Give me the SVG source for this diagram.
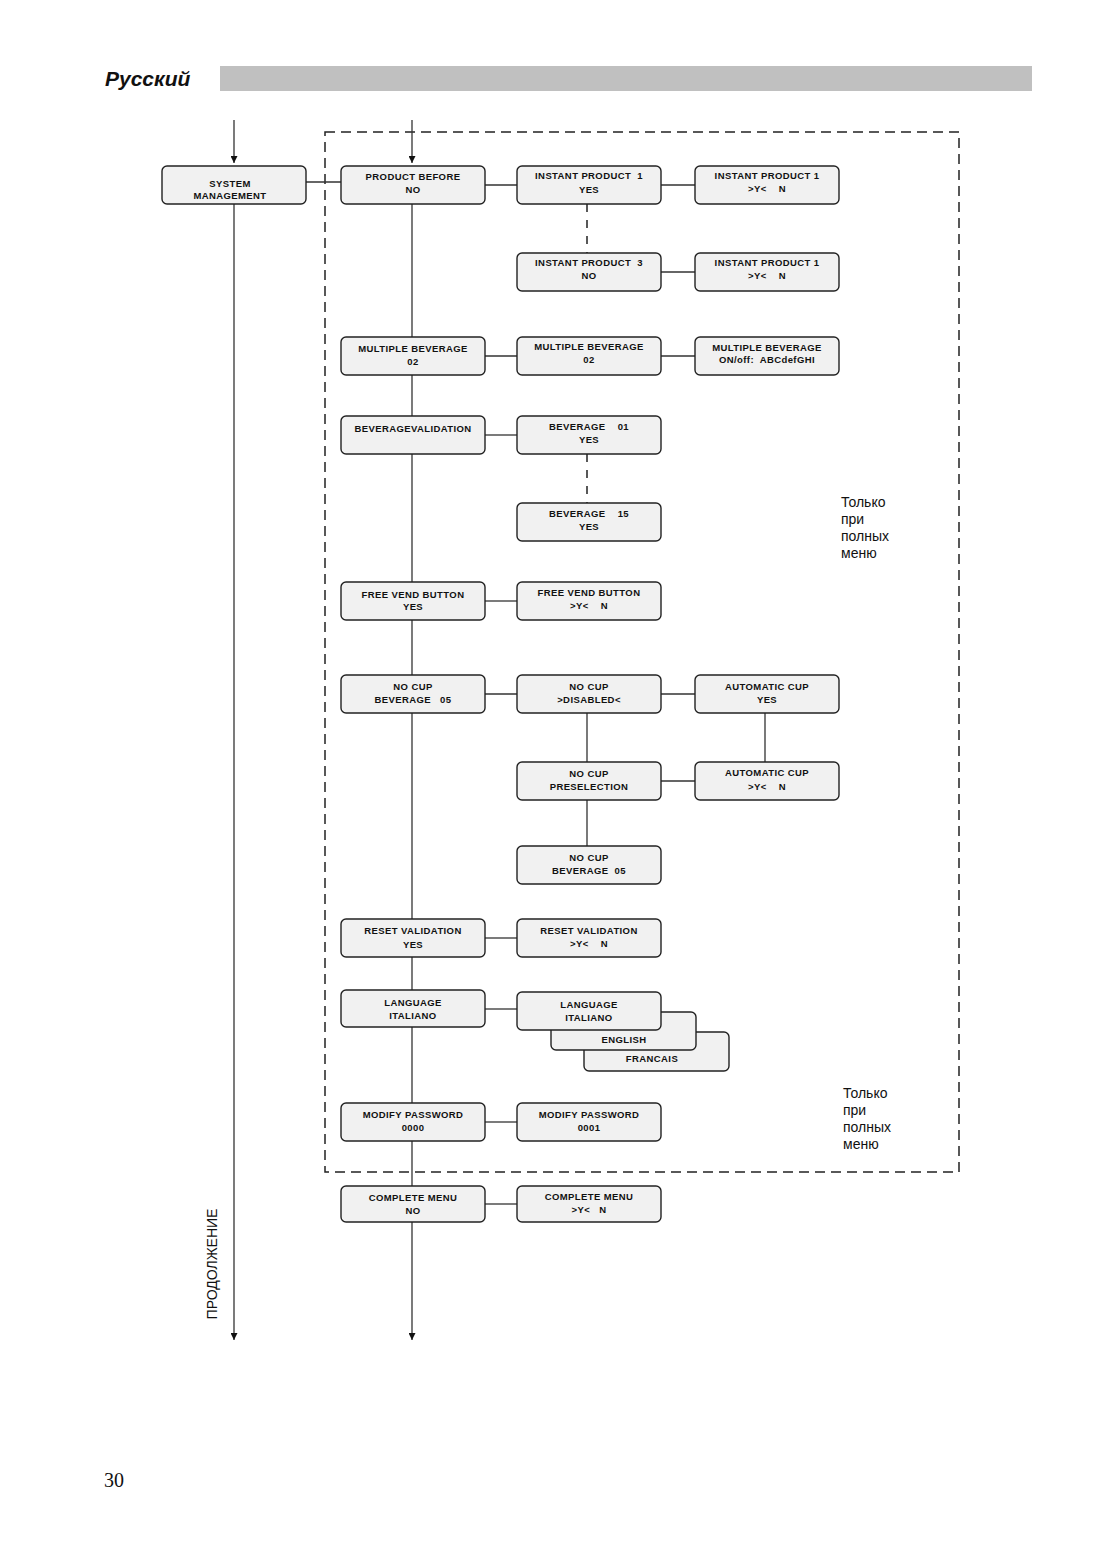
<svg xmlns="http://www.w3.org/2000/svg" width="1102" height="1558" viewBox="0 0 1102 1558">
<defs>
<style>
.b{fill:#f1f1f1;stroke:#222;stroke-width:1.4}
.t{font-family:"Liberation Sans",Arial,sans-serif;font-size:9.5px;font-weight:bold;fill:#111;text-anchor:middle;letter-spacing:0.4px;white-space:pre}
.c{stroke:#333;stroke-width:1.3;fill:none}
.d{stroke:#222;stroke-width:1.5;fill:none;stroke-dasharray:10,6}
.n{font-family:"Liberation Sans",Arial,sans-serif;font-size:14px;fill:#111}
</style>
<marker id="ah" viewBox="0 0 10 10" refX="10" refY="5" markerWidth="8" markerHeight="7" orient="auto" markerUnits="userSpaceOnUse">
<path d="M0,0 L10,5 L0,10 Z" fill="#111"/>
</marker>
</defs>
<rect width="1102" height="1558" fill="#fff"/>
<text x="105" y="86" font-family="Liberation Sans,Arial,sans-serif" font-size="21" font-weight="bold" font-style="italic" fill="#111">Русский</text>
<rect x="220" y="66" width="812" height="25" fill="#c0c0c0"/>
<rect x="325" y="132" width="634" height="1040" class="d"/>
<g id="connectors">
<path class="c" d="M234,120 V163" marker-end="url(#ah)"/>
<path class="c" d="M412,120 V163" marker-end="url(#ah)"/>
<path class="c" d="M234,204 V1340" marker-end="url(#ah)"/>
<path class="c" d="M412,204 V1340" marker-end="url(#ah)"/>
<path class="c" d="M306,182 H341"/>
<path class="c" d="M485,185 H517 M661,185 H695"/>
<path class="c" d="M661,272 H695"/>
<path class="c" d="M485,356 H517 M661,356 H695"/>
<path class="c" d="M485,435 H517"/>
<path class="c" d="M485,601 H517"/>
<path class="c" d="M485,694 H517 M661,694 H695"/>
<path class="c" d="M587,713 V762 M765,713 V762 M661,781 H695 M587,800 V846"/>
<path class="c" d="M485,938 H517"/>
<path class="c" d="M485,1009 H517"/>
<path class="c" d="M485,1122 H517"/>
<path class="c" d="M485,1204 H517"/>
<path d="M587,204 V253 M587,454 V503" stroke="#222" stroke-width="1.5" stroke-dasharray="8,8"/>
</g>
<g id="system_management"><rect class="b" x="162" y="166" width="144" height="38" rx="5"/><text class="t" x="230" y="187">SYSTEM</text><text class="t" x="230" y="199">MANAGEMENT</text></g>
<g id="product_before"><rect class="b" x="341" y="166" width="144" height="38" rx="5"/><text class="t" x="413" y="180">PRODUCT BEFORE</text><text class="t" x="413" y="193">NO</text></g>
<g id="instant1"><rect class="b" x="517" y="166" width="144" height="38" rx="5"/><text class="t" x="589" y="179">INSTANT PRODUCT  1</text><text class="t" x="589" y="193">YES</text></g>
<g id="instant1_yn"><rect class="b" x="695" y="166" width="144" height="38" rx="5"/><text class="t" x="767" y="179">INSTANT PRODUCT 1</text><text class="t" x="767" y="192">&gt;Y&lt;    N</text></g>
<g id="instant3"><rect class="b" x="517" y="253" width="144" height="38" rx="5"/><text class="t" x="589" y="266">INSTANT PRODUCT  3</text><text class="t" x="589" y="279">NO</text></g>
<g id="instant1_yn2"><rect class="b" x="695" y="253" width="144" height="38" rx="5"/><text class="t" x="767" y="266">INSTANT PRODUCT 1</text><text class="t" x="767" y="279">&gt;Y&lt;    N</text></g>
<g id="multiple1"><rect class="b" x="341" y="337" width="144" height="38" rx="5"/><text class="t" x="413" y="352">MULTIPLE BEVERAGE</text><text class="t" x="413" y="365">02</text></g>
<g id="multiple2"><rect class="b" x="517" y="337" width="144" height="38" rx="5"/><text class="t" x="589" y="350">MULTIPLE BEVERAGE</text><text class="t" x="589" y="363">02</text></g>
<g id="multiple3"><rect class="b" x="695" y="337" width="144" height="38" rx="5"/><text class="t" x="767" y="351">MULTIPLE BEVERAGE</text><text class="t" x="767" y="363">ON/off:  ABCdefGHI</text></g>
<g id="bev_validation"><rect class="b" x="341" y="416" width="144" height="38" rx="5"/><text class="t" x="413" y="432">BEVERAGEVALIDATION</text></g>
<g id="bev01"><rect class="b" x="517" y="416" width="144" height="38" rx="5"/><text class="t" x="589" y="430">BEVERAGE    01</text><text class="t" x="589" y="443">YES</text></g>
<g id="bev15"><rect class="b" x="517" y="503" width="144" height="38" rx="5"/><text class="t" x="589" y="517">BEVERAGE    15</text><text class="t" x="589" y="530">YES</text></g>
<g id="note1"><text class="n" x="841" y="507">Только</text><text class="n" x="841" y="524">при</text><text class="n" x="841" y="541">полных</text><text class="n" x="841" y="558">меню</text></g>
<g id="free_vend1"><rect class="b" x="341" y="582" width="144" height="38" rx="5"/><text class="t" x="413" y="598">FREE VEND BUTTON</text><text class="t" x="413" y="610">YES</text></g>
<g id="free_vend2"><rect class="b" x="517" y="582" width="144" height="38" rx="5"/><text class="t" x="589" y="596">FREE VEND BUTTON</text><text class="t" x="589" y="609">&gt;Y&lt;    N</text></g>
<g id="nocup1"><rect class="b" x="341" y="675" width="144" height="38" rx="5"/><text class="t" x="413" y="690">NO CUP</text><text class="t" x="413" y="703">BEVERAGE   05</text></g>
<g id="nocup_disabled"><rect class="b" x="517" y="675" width="144" height="38" rx="5"/><text class="t" x="589" y="690">NO CUP</text><text class="t" x="589" y="703">&gt;DISABLED&lt;</text></g>
<g id="auto_cup_yes"><rect class="b" x="695" y="675" width="144" height="38" rx="5"/><text class="t" x="767" y="690">AUTOMATIC CUP</text><text class="t" x="767" y="703">YES</text></g>
<g id="nocup_presel"><rect class="b" x="517" y="762" width="144" height="38" rx="5"/><text class="t" x="589" y="777">NO CUP</text><text class="t" x="589" y="790">PRESELECTION</text></g>
<g id="auto_cup_yn"><rect class="b" x="695" y="762" width="144" height="38" rx="5"/><text class="t" x="767" y="776">AUTOMATIC CUP</text><text class="t" x="767" y="790">&gt;Y&lt;    N</text></g>
<g id="nocup_bev"><rect class="b" x="517" y="846" width="144" height="38" rx="5"/><text class="t" x="589" y="861">NO CUP</text><text class="t" x="589" y="874">BEVERAGE  05</text></g>
<g id="reset1"><rect class="b" x="341" y="919" width="144" height="38" rx="5"/><text class="t" x="413" y="934">RESET VALIDATION</text><text class="t" x="413" y="948">YES</text></g>
<g id="reset2"><rect class="b" x="517" y="919" width="144" height="38" rx="5"/><text class="t" x="589" y="934">RESET VALIDATION</text><text class="t" x="589" y="947">&gt;Y&lt;    N</text></g>
<g id="language1"><rect class="b" x="341" y="990" width="144" height="37" rx="5"/><text class="t" x="413" y="1006">LANGUAGE</text><text class="t" x="413" y="1019">ITALIANO</text></g>
<g id="language_fr"><rect class="b" x="584" y="1032" width="145" height="39" rx="5"/><text class="t" x="652" y="1062">FRANCAIS</text></g>
<g id="language_en"><rect class="b" x="551" y="1012" width="145" height="38" rx="5"/><text class="t" x="624" y="1043">ENGLISH</text></g>
<g id="language2"><rect class="b" x="517" y="992" width="144" height="38" rx="5"/><text class="t" x="589" y="1008">LANGUAGE</text><text class="t" x="589" y="1021">ITALIANO</text></g>
<g id="password1"><rect class="b" x="341" y="1103" width="144" height="38" rx="5"/><text class="t" x="413" y="1118">MODIFY PASSWORD</text><text class="t" x="413" y="1131">0000</text></g>
<g id="password2"><rect class="b" x="517" y="1103" width="144" height="38" rx="5"/><text class="t" x="589" y="1118">MODIFY PASSWORD</text><text class="t" x="589" y="1131">0001</text></g>
<g id="note2"><text class="n" x="843" y="1098">Только</text><text class="n" x="843" y="1115">при</text><text class="n" x="843" y="1132">полных</text><text class="n" x="843" y="1149">меню</text></g>
<g id="complete1"><rect class="b" x="341" y="1186" width="144" height="36" rx="5"/><text class="t" x="413" y="1201">COMPLETE MENU</text><text class="t" x="413" y="1214">NO</text></g>
<g id="complete2"><rect class="b" x="517" y="1186" width="144" height="36" rx="5"/><text class="t" x="589" y="1200">COMPLETE MENU</text><text class="t" x="589" y="1213">&gt;Y&lt;   N</text></g>
<text class="n" transform="translate(217,1264) rotate(-90)" text-anchor="middle">ПРОДОЛЖЕНИЕ</text>
<text x="104" y="1487" font-family="Liberation Serif,Times New Roman,serif" font-size="20" fill="#111">30</text>
</svg>
